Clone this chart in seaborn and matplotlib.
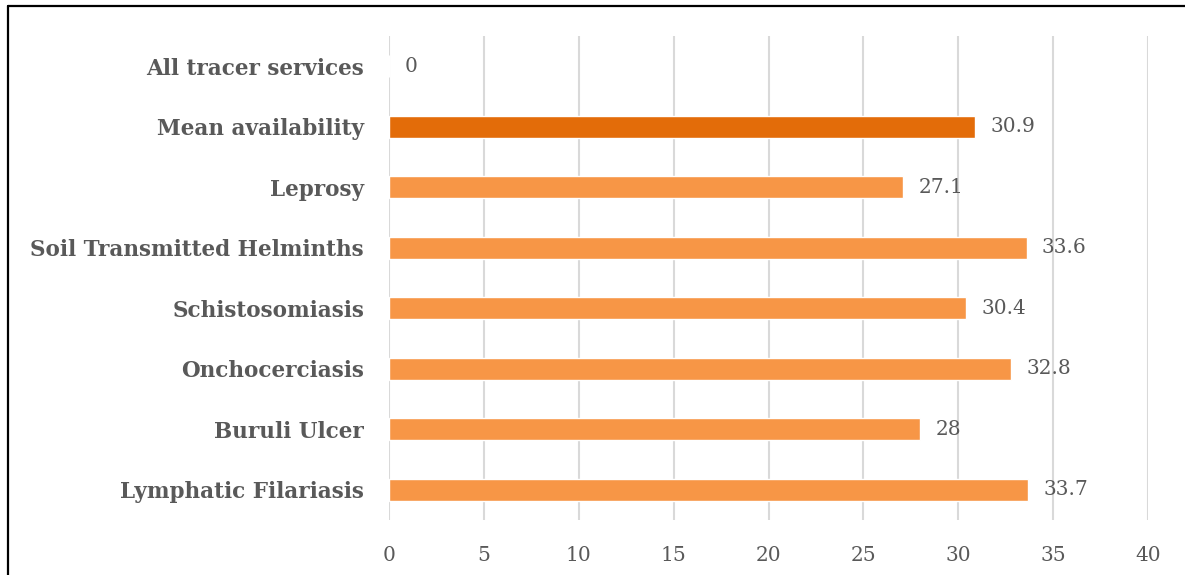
import matplotlib
matplotlib.use("Agg")
import matplotlib.pyplot as plt
from matplotlib.lines import Line2D
import seaborn as sns
import pandas as pd

# Services, listed top to bottom, with mean availability (%)
services = [
    "All tracer services",
    "Mean availability",
    "Leprosy",
    "Soil Transmitted Helminths",
    "Schistosomiasis",
    "Onchocerciasis",
    "Buruli Ulcer",
    "Lymphatic Filariasis",
]
values = [0, 30.9, 27.1, 33.6, 30.4, 32.8, 28, 33.7]
value_labels = ["0", "30.9", "27.1", "33.6", "30.4", "32.8", "28", "33.7"]
x_ticks = [0, 5, 10, 15, 20, 25, 30, 35, 40]

light_orange = "#F79646"
dark_orange = "#E36C09"
text_grey = "#595959"

df = pd.DataFrame({"service": services, "value": values})
palette = {s: (dark_orange if s == "Mean availability" else light_orange) for s in services}

sns.set_theme(style="white")
plt.rcParams["font.family"] = ["DejaVu Serif"]

fig = plt.figure(figsize=(11.85, 5.75), dpi=100)
ax = fig.add_axes([0.3283, 0.0957, 0.6405, 0.8417])

sns.barplot(data=df, y="service", x="value", hue="service", palette=palette,
            order=services, hue_order=services, orient="h", width=0.36,
            legend=False, saturation=1, ax=ax)

for container, lab in zip(ax.containers, value_labels):
    ax.bar_label(container, labels=[lab], padding=11, fontsize=14.5,
                 color=text_grey)

ax.set_xlim(0, 40)
ax.set_xticks(x_ticks)
ax.set_xticklabels([str(t) for t in x_ticks])
ax.xaxis.grid(True, color="#D9D9D9", linewidth=1.5)
ax.yaxis.grid(False)
ax.set_axisbelow(True)
for s in ax.spines.values():
    s.set_visible(False)
ax.set_xlabel("")
ax.set_ylabel("")
ax.tick_params(axis="x", length=0, pad=19, labelsize=14.5, labelcolor=text_grey)
ax.tick_params(axis="y", length=0, pad=18, labelsize=15.5, labelcolor=text_grey)
for t in ax.get_yticklabels():
    t.set_fontweight("bold")

# Black frame around the figure area
fig.add_artist(Line2D([8 / 1185, 1], [1 - 6 / 575, 1 - 6 / 575],
                      transform=fig.transFigure, color="black", linewidth=1.6))
fig.add_artist(Line2D([8 / 1185, 8 / 1185], [0, 1 - 6 / 575],
                      transform=fig.transFigure, color="black", linewidth=1.6))

fig.savefig("out.png", dpi=100)
